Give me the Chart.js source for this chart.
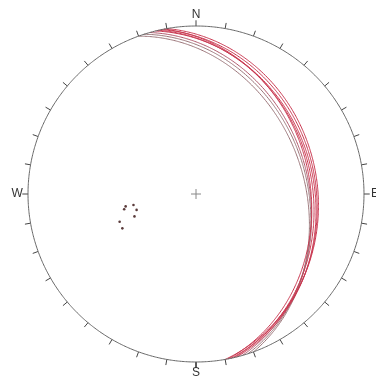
<!DOCTYPE html>
<html lang="en">
<head>
    <meta charset="UTF-8">
    <title>Stereonet</title>
    <script src="https://cdn.jsdelivr.net/npm/chart.js"></script>
    <style>
        body { margin: 0; background: #fff; }
    </style>
</head>
<body>
    <canvas id="net" width="376" height="381"></canvas>

    <script>
        // planes (dip direction / dip), lower hemisphere equal-area
        const planeDipDirs = [78, 80, 76, 77, 79, 72, 70, 74];
        const planeDips    = [29.5, 28.5, 30.5, 31.5, 32.5, 34.5, 36, 33.5];
        const planeColors  = ['#c8354e', '#c8354e', '#c8354e', '#c8354e', '#c8354e', '#9a7478', '#9a7478', '#b0566a'];

        // poles (trend / plunge)
        const poleTrends   = [260, 258, 260, 255, 250, 250, 245];
        const polePlunges  = [55, 54, 59, 60, 58, 50, 50];

        const dirLabels = ['N', 'E', 'S', 'W'];
        const tickAzimuths = [];
        for (let a = 0; a < 360; a += 10) tickAzimuths.push(a);

        const rad = d => d * Math.PI / 180;

        // unit vector (E, N, Down) -> equal-area x,y
        function project(e, n, d) {
            const f = 1 / Math.sqrt(1 + d);
            return { x: e * f, y: n * f };
        }

        function greatCircle(dipDir, dip) {
            const s = rad(dipDir - 90), p = rad(dipDir), q = rad(dip);
            const pts = [];
            for (let t = 0; t <= 180; t += 2) {
                const c = Math.cos(rad(t)), sn = Math.sin(rad(t));
                const e = c * Math.sin(s) + sn * Math.cos(q) * Math.sin(p);
                const n = c * Math.cos(s) + sn * Math.cos(q) * Math.cos(p);
                const d = sn * Math.sin(q);
                pts.push(project(e, n, d));
            }
            return pts;
        }

        function pole(trend, plunge) {
            const t = rad(trend), pl = rad(plunge);
            return project(Math.cos(pl) * Math.sin(t), Math.cos(pl) * Math.cos(t), Math.sin(pl));
        }

        const datasets = [];

        // primitive circle
        const prim = [];
        for (let a = 0; a <= 360; a += 2) prim.push({ x: Math.sin(rad(a)), y: Math.cos(rad(a)) });
        datasets.push({ data: prim, showLine: true, borderColor: '#666', borderWidth: 1, pointRadius: 0, tension: 0.2 });

        // ticks
        tickAzimuths.forEach(a => {
            datasets.push({
                data: [
                    { x: Math.sin(rad(a)), y: Math.cos(rad(a)) },
                    { x: 1.034 * Math.sin(rad(a)), y: 1.034 * Math.cos(rad(a)) }
                ],
                showLine: true, borderColor: '#444', borderWidth: 1, pointRadius: 0
            });
        });

        planeDipDirs.forEach((dd, i) => {
            datasets.push({
                data: greatCircle(dd, planeDips[i]),
                showLine: true, borderColor: planeColors[i], borderWidth: 1, pointRadius: 0, tension: 0.2
            });
        });

        datasets.push({
            data: poleTrends.map((t, i) => pole(t, polePlunges[i])),
            showLine: false, pointRadius: 1.3, backgroundColor: '#5a3a3a', borderColor: '#5a3a3a', borderWidth: 0
        });

        // centre cross
        datasets.push({
            data: [{ x: 0, y: 0 }],
            pointStyle: 'cross', pointRadius: 5, borderColor: '#888', borderWidth: 1
        });

        const labelPlugin = {
            id: 'dirLabels',
            afterDatasetsDraw(chart) {
                const ctx = chart.ctx;
                const xs = chart.scales.x, ys = chart.scales.y;
                ctx.save();
                ctx.font = '12px "Liberation Sans", Arial, sans-serif';
                ctx.fillStyle = '#333';
                ctx.textAlign = 'center';
                ctx.textBaseline = 'middle';
                dirLabels.forEach((lab, i) => {
                    const a = rad(i * 90);
                    const r = 1.065;
                    ctx.fillText(lab, xs.getPixelForValue(r * Math.sin(a)), ys.getPixelForValue(r * Math.cos(a)));
                });
                ctx.restore();
            }
        };

        const R = 168;
        new Chart(document.getElementById('net'), {
            type: 'scatter',
            data: { datasets: datasets },
            options: {
                responsive: false,
                animation: false,
                layout: { padding: 0, autoPadding: false },
                plugins: { legend: { display: false }, tooltip: { enabled: false } },
                scales: {
                    x: { display: false, min: -196 / R, max: (376 - 196) / R },
                    y: { display: false, min: -(381 - 194) / R, max: 194 / R }
                }
            },
            plugins: [labelPlugin]
        });
    </script>
</body>
</html>
